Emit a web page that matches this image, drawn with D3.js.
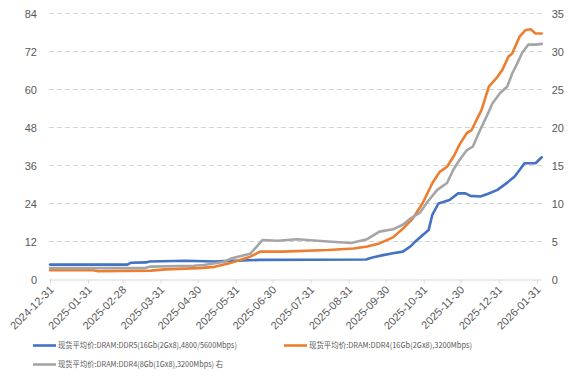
<!DOCTYPE html>
<html>
<head>
<meta charset="utf-8">
<script src="https://cdn.jsdelivr.net/npm/d3@7"></script>
<style>
  html, body { margin: 0; padding: 0; background: #fff; }
  svg { display: block; font-family: "Noto Sans", "Noto Sans CJK SC", sans-serif; }
</style>
</head>
<body>
<svg id="chart" width="574" height="382"></svg>
<script>
// ---- data ----
const leftTicks = [0, 12, 24, 36, 48, 60, 72, 84];
const rightTicks = [0, 5, 10, 15, 20, 25, 30, 35];
const xTickLabels = ["2024-12-31","2025-01-31","2025-02-28","2025-03-31","2025-04-30","2025-05-31","2025-06-30","2025-07-31","2025-08-31","2025-09-30","2025-10-31","2025-11-30","2025-12-31","2026-01-31"];

const ddr5Name = "现货平均价:DRAM:DDR5(16Gb(2Gx8),4800/5600Mbps)";
const ddr5Dates = ["2024-12-31","2025-03-04","2025-03-07","2025-03-19","2025-03-22","2025-04-20","2025-05-14","2025-05-22","2025-06-20","2025-09-14","2025-09-20","2025-09-28","2025-10-06","2025-10-14","2025-10-20","2025-10-24","2025-10-30","2025-11-04","2025-11-07","2025-11-12","2025-11-21","2025-11-28","2025-12-04","2025-12-08","2025-12-16","2025-12-22","2025-12-30","2026-01-07","2026-01-13","2026-01-17","2026-01-21","2026-01-30","2026-02-04"];
const ddr5Values = [4.7,4.7,5.3,5.4,5.7,5.9,5.7,5.8,6.2,6.3,7.0,7.7,8.3,8.8,10.4,11.9,14.0,15.6,20.4,24.0,25.1,27.2,27.2,26.4,26.2,27.0,28.3,30.6,32.5,34.6,36.7,36.7,38.6];

const ddr4_16Name = "现货平均价:DRAM:DDR4(16Gb(2Gx8),3200Mbps)";
const ddr4_16Dates = ["2024-12-31","2025-02-04","2025-02-08","2025-03-23","2025-04-04","2025-05-01","2025-05-14","2025-05-26","2025-06-12","2025-06-20","2025-07-08","2025-08-14","2025-09-04","2025-09-15","2025-09-25","2025-10-06","2025-10-14","2025-10-22","2025-10-30","2025-11-07","2025-11-13","2025-11-19","2025-11-25","2025-11-29","2025-12-05","2025-12-09","2025-12-13","2025-12-17","2025-12-23","2025-12-29","2026-01-03","2026-01-08","2026-01-11","2026-01-17","2026-01-22","2026-01-26","2026-01-30","2026-02-04"];
const ddr4_16Values = [2.9,2.9,2.6,2.8,3.2,3.6,4.0,5.1,7.2,8.8,8.8,9.3,9.8,10.4,11.4,13.3,16.0,19.2,24.0,30.4,34.0,35.6,39.3,42.5,46.2,47.2,50.4,53.5,60.9,63.5,66.2,70.4,71.4,76.7,78.8,79.0,77.7,77.7];

const ddr4_8Name = "现货平均价:DRAM:DDR4(8Gb(1Gx8),3200Mbps) 右";
const ddr4_8Dates = ["2024-12-31","2025-03-18","2025-03-23","2025-04-27","2025-05-05","2025-05-21","2025-05-28","2025-06-12","2025-06-17","2025-06-22","2025-07-04","2025-07-20","2025-08-14","2025-09-02","2025-09-15","2025-09-25","2025-10-06","2025-10-14","2025-10-20","2025-10-28","2025-11-03","2025-11-11","2025-11-19","2025-11-24","2025-11-29","2025-12-05","2025-12-10","2025-12-16","2025-12-21","2025-12-26","2026-01-01","2026-01-07","2026-01-11","2026-01-15","2026-01-19","2026-01-24","2026-01-30","2026-02-04"];
const ddr4_8Values = [1.5,1.5,1.7,1.8,1.9,2.3,2.8,3.4,4.3,5.2,5.1,5.3,5.0,4.8,5.3,6.3,6.6,7.2,8.0,8.8,10.2,11.8,12.7,14.4,15.7,17.0,17.5,19.7,21.4,23.2,24.5,25.4,27.1,28.4,29.8,30.9,30.9,31.0];

// ---- chart ----
const svg = d3.select("#chart");
const parse = d3.timeParse("%Y-%m-%d");
const plot = { left: 50, right: 541.7, top: 13.5, bottom: 279.5 };

const x = d3.scaleTime()
  .domain([parse("2024-12-31"), parse("2026-02-04")])
  .range([plot.left, plot.right]);
const yL = d3.scaleLinear().domain([0, 84]).range([plot.bottom, plot.top]);
const yR = d3.scaleLinear().domain([0, 35]).range([plot.bottom, plot.top]);

const textColor = "#595959";

// gridlines
svg.append("g").selectAll("line")
  .data(leftTicks.filter(d => d > 0))
  .join("line")
  .attr("x1", plot.left - 1).attr("x2", plot.right)
  .attr("y1", d => yL(d)).attr("y2", d => yL(d))
  .attr("stroke", "#d4d4d4").attr("stroke-width", 1)
  .attr("stroke-dasharray", "5,3");

// left axis
const leftAxis = d3.axisLeft(yL).tickValues(leftTicks).tickSize(0).tickPadding(0);
const gL = svg.append("g").attr("transform", `translate(${plot.left - 13},0)`).call(leftAxis);
gL.select(".domain").remove();
gL.selectAll("text").attr("fill", textColor).style("font-size", "11px");

// right axis
const rightAxis = d3.axisRight(yR).tickValues(rightTicks).tickSize(0).tickPadding(0);
const gR = svg.append("g").attr("transform", `translate(${plot.right + 10},0)`).call(rightAxis);
gR.select(".domain").remove();
gR.selectAll("text").attr("fill", textColor).style("font-size", "11px");

// bottom axis
const xTicks = xTickLabels.map(parse);
const bottomAxis = d3.axisBottom(x).tickValues(xTicks).tickSize(4).tickSizeOuter(0)
  .tickFormat(d3.timeFormat("%Y-%m-%d"));
const gB = svg.append("g").attr("transform", `translate(0,${plot.bottom})`).call(bottomAxis);
gB.select(".domain").attr("stroke", "#d9d9d9").attr("d", `M${plot.left - 1},0.5H${plot.right}`);
gB.selectAll(".tick line").attr("stroke", "#d9d9d9");
gB.selectAll("text")
  .attr("fill", textColor)
  .style("font-size", "11px")
  .attr("text-anchor", "end")
  .attr("dy", null)
  .attr("y", 0)
  .attr("transform", "translate(4,11) rotate(-45)");

// lines
const lineL = d3.line().x(d => x(d.date)).y(d => yL(d.value));
const lineR = d3.line().x(d => x(d.date)).y(d => yR(d.value));
const zip = (ds, vs) => ds.map((d, i) => ({ date: parse(d), value: vs[i] }));

const series = [
  { data: zip(ddr5Dates, ddr5Values), color: "#4472c4", gen: lineL },
  { data: zip(ddr4_16Dates, ddr4_16Values), color: "#ed7d31", gen: lineL },
  { data: zip(ddr4_8Dates, ddr4_8Values), color: "#a5a5a5", gen: lineR }
];
svg.append("g").selectAll("path")
  .data(series)
  .join("path")
  .attr("d", s => s.gen(s.data))
  .attr("fill", "none")
  .attr("stroke", s => s.color)
  .attr("stroke-width", 2.6)
  .attr("stroke-linejoin", "round")
  .attr("stroke-linecap", "round");

// legend
const legend = [
  { name: ddr5Name, color: "#4472c4", lx: 33, ly: 345.5, w: 179 },
  { name: ddr4_16Name, color: "#ed7d31", lx: 284, ly: 345.5, w: 163 },
  { name: ddr4_8Name, color: "#a5a5a5", lx: 33, ly: 364.5, w: 165 }
];
const lg = svg.append("g").selectAll("g").data(legend).join("g")
  .attr("transform", d => `translate(${d.lx},${d.ly})`);
lg.append("line").attr("x1", 0).attr("x2", 23).attr("y1", 0).attr("y2", 0)
  .attr("stroke", d => d.color).attr("stroke-width", 2.6);
lg.append("text").attr("x", 25).attr("y", 0).attr("dy", "0.35em")
  .attr("fill", textColor)
  .style("font-size", "8px")
  .style("font-family", '"Noto Sans CJK SC", sans-serif')
  .attr("textLength", d => d.w)
  .attr("lengthAdjust", "spacingAndGlyphs")
  .text(d => d.name);
</script>
</body>
</html>
